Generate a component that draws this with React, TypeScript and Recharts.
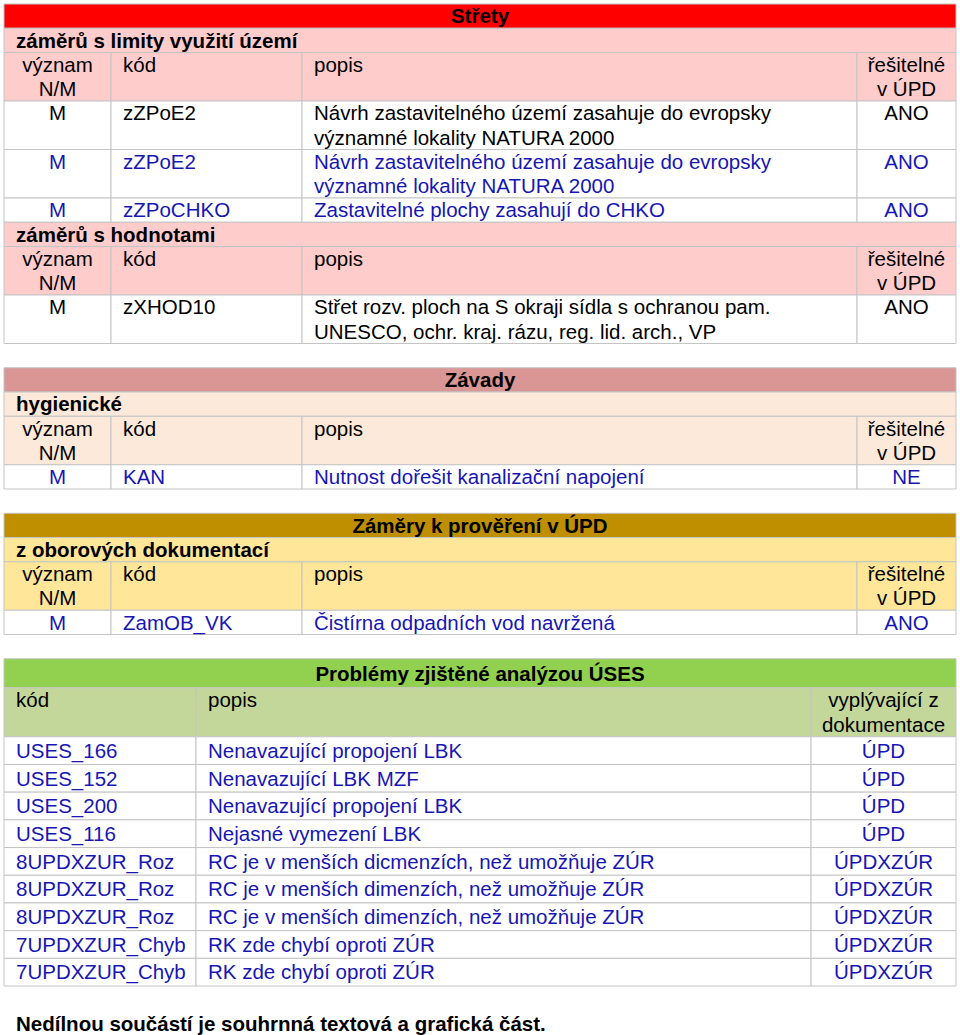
import React from "react";
import { Surface, Layer, Rectangle, Text } from "recharts";

type Row4 = { nm: string; kod: string; popis: string[]; upd: string; blue: boolean };

// Střety
const limityRows: Row4[] = [
  { nm: "M", kod: "zZPoE2", popis: ["Návrh zastavitelného území zasahuje do evropsky", "významné lokality NATURA 2000"], upd: "ANO", blue: false },
  { nm: "M", kod: "zZPoE2", popis: ["Návrh zastavitelného území zasahuje do evropsky", "významné lokality NATURA 2000"], upd: "ANO", blue: true },
  { nm: "M", kod: "zZPoCHKO", popis: ["Zastavitelné plochy zasahují do CHKO"], upd: "ANO", blue: true },
];
const hodnotyRows: Row4[] = [
  { nm: "M", kod: "zXHOD10", popis: ["Střet rozv. ploch na S okraji sídla s ochranou pam.", "UNESCO, ochr. kraj. rázu, reg. lid. arch., VP"], upd: "ANO", blue: false },
];
// Závady
const hygienickeRows: Row4[] = [
  { nm: "M", kod: "KAN", popis: ["Nutnost dořešit kanalizační napojení"], upd: "NE", blue: true },
];
// Záměry k prověření
const oboroveRows: Row4[] = [
  { nm: "M", kod: "ZamOB_VK", popis: ["Čistírna odpadních vod navržená"], upd: "ANO", blue: true },
];

const head4 = [["význam", "N/M"], ["kód"], ["popis"], ["řešitelné", "v ÚPD"]];

// Problémy ÚSES
const head3 = [["kód"], ["popis"], ["vyplývající z", "dokumentace"]];
const usesKod = [
  "USES_166", "USES_152", "USES_200", "USES_116",
  "8UPDXZUR_Roz", "8UPDXZUR_Roz", "8UPDXZUR_Roz",
  "7UPDXZUR_Chyb", "7UPDXZUR_Chyb",
];
const usesPopis = [
  "Nenavazující propojení LBK",
  "Nenavazující LBK MZF",
  "Nenavazující propojení LBK",
  "Nejasné vymezení LBK",
  "RC je v menších dicmenzích, než umožňuje ZÚR",
  "RC je v menších dimenzích, než umožňuje ZÚR",
  "RC je v menších dimenzích, než umožňuje ZÚR",
  "RK zde chybí oproti ZÚR",
  "RK zde chybí oproti ZÚR",
];
const usesZdroj = ["ÚPD", "ÚPD", "ÚPD", "ÚPD", "ÚPDXZÚR", "ÚPDXZÚR", "ÚPDXZÚR", "ÚPDXZÚR", "ÚPDXZÚR"];

const footer = "Nedílnou součástí je souhrnná textová a grafická část.";

type Section = {
  title: string;
  titleFill: string;
  subFill: string;
  groups: { label: string; rows: Row4[] }[];
};

const sections: Section[] = [
  {
    title: "Střety",
    titleFill: "#ff0000",
    subFill: "#ffcccc",
    groups: [
      { label: "záměrů s limity využití území", rows: limityRows },
      { label: "záměrů s hodnotami", rows: hodnotyRows },
    ],
  },
  { title: "Závady", titleFill: "#da9694", subFill: "#fde9d9", groups: [{ label: "hygienické", rows: hygienickeRows }] },
  {
    title: "Záměry k prověření v ÚPD",
    titleFill: "#bf8f00",
    subFill: "#ffe699",
    groups: [{ label: "z oborových dokumentací", rows: oboroveRows }],
  },
];

const FONT = '"Liberation Sans", Arial, sans-serif';
const FS = 20.5;
const LINE = 24.25;
const BLUE = "#1616b4";
const GRID = "#c4c4c4";
const LEFT = 4;
const RIGHT = 956;
const PAD = 12;
const COLS4 = [4, 111, 302, 857, 956];
const ALIGN4 = ["middle", "start", "start", "middle"];
const COLS3 = [4, 196, 811, 956];
const ALIGN3 = ["start", "start", "middle"];

export default function App() {
  const els: React.ReactNode[] = [];
  let k = 0;

  const cell = (x: number, y: number, w: number, h: number, fill: string) => {
    els.push(<Rectangle key={k++} x={x} y={y} width={w} height={h} fill={fill} stroke={GRID} strokeWidth={1} />);
  };
  const text = (
    str: string,
    x: number,
    y: number,
    anchor: "start" | "middle",
    color = "#000",
    bold = false
  ) => {
    els.push(
      <Text
        key={k++}
        x={x}
        y={y}
        textAnchor={anchor}
        verticalAnchor="middle"
        fontFamily={FONT}
        fontSize={FS}
        fontWeight={bold ? "bold" : "normal"}
        fill={color}
      >
        {str}
      </Text>
    );
  };
  const rowCells = (
    cols: number[],
    aligns: string[],
    cells: string[][],
    top: number,
    h: number,
    nLines: number,
    fill: string,
    color: string
  ) => {
    const pad = (h - nLines * LINE) / 2;
    cells.forEach((lines, c) => {
      const x0 = cols[c];
      const x1 = cols[c + 1];
      cell(x0, top, x1 - x0, h, fill);
    });
    cells.forEach((lines, c) => {
      const x0 = cols[c];
      const x1 = cols[c + 1];
      const anchor = aligns[c] as "start" | "middle";
      const tx = anchor === "middle" ? (x0 + x1) / 2 : x0 + PAD;
      lines.forEach((ln, i) => text(ln, tx, top + pad + LINE * (i + 0.5), anchor, color));
    });
  };

  let y = 4;
  sections.forEach((s) => {
    cell(LEFT, y, RIGHT - LEFT, LINE, s.titleFill);
    text(s.title, (LEFT + RIGHT) / 2, y + LINE / 2, "middle", "#000", true);
    y += LINE;
    s.groups.forEach((g) => {
      cell(LEFT, y, RIGHT - LEFT, LINE, s.subFill);
      text(g.label, 16, y + LINE / 2, "start", "#000", true);
      y += LINE;
      rowCells(COLS4, ALIGN4, head4, y, LINE * 2, 2, s.subFill, "#000");
      y += LINE * 2;
      g.rows.forEach((r) => {
        const n = Math.max(1, r.popis.length);
        const h = n * LINE;
        rowCells(COLS4, ALIGN4, [[r.nm], [r.kod], r.popis, [r.upd]], y, h, n, "#ffffff", r.blue ? BLUE : "#000");
        y += h;
      });
    });
    y += LINE;
  });

  // Problémy zjištěné analýzou ÚSES
  const titleH = 29;
  cell(LEFT, y, RIGHT - LEFT, titleH, "#92d050");
  text("Problémy zjištěné analýzou ÚSES", (LEFT + RIGHT) / 2, y + titleH / 2, "middle", "#000", true);
  y += titleH;
  rowCells(COLS3, ALIGN3, head3, y, 49, 2, "#c4d79b", "#000");
  y += 49;
  const rowH = 27.7;
  usesKod.forEach((kod, i) => {
    rowCells(COLS3, ALIGN3, [[kod], [usesPopis[i]], [usesZdroj[i]]], y, rowH, 1, "#ffffff", BLUE);
    y += rowH;
  });

  text(footer, 16, 1024, "start", "#000", true);

  return (
    <div style={{ position: "absolute", left: 0, top: 0, width: 960, height: 1035, background: "#fff" }}>
      <Surface width={960} height={1035}>
        <Layer>{els}</Layer>
      </Surface>
    </div>
  );
}
